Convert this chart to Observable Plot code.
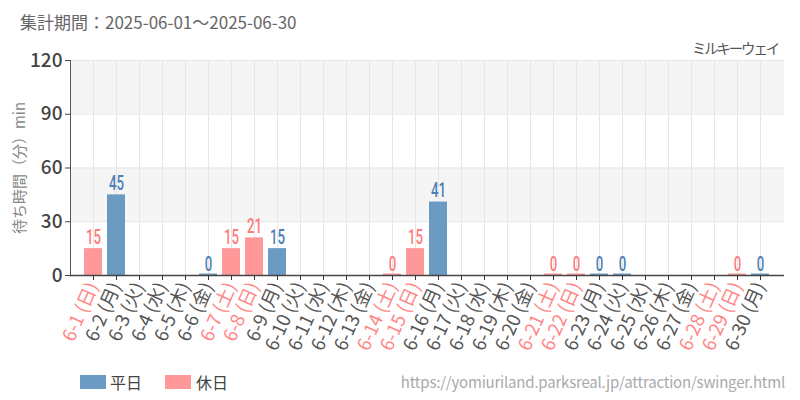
<!DOCTYPE html>
<html><head><meta charset="utf-8">
<script src="https://cdn.jsdelivr.net/npm/d3@7"></script>
<script src="https://cdn.jsdelivr.net/npm/@observablehq/plot@0.6"></script>
<style>
body{margin:0;background:#fff;font-family:"Noto Sans CJK JP","Noto Sans",sans-serif;}
#wrap{position:relative;width:800px;height:400px;overflow:hidden;}
#title{position:absolute;left:20px;top:9px;font-size:17px;color:#666;z-index:2;}
#name{position:absolute;right:22px;top:37px;font-size:14.5px;color:#555;z-index:2;letter-spacing:-2.2px;}
#chart{position:absolute;left:0;top:40px;z-index:1;}
#legend{position:absolute;left:0;top:360px;width:800px;height:40px;font-size:16px;color:#444;z-index:2;}
.sw{position:absolute;top:15px;width:26px;height:14px;}
.lt{position:absolute;top:10px;}
#url{position:absolute;right:15px;top:11px;font-size:15px;color:#aaa;letter-spacing:-0.2px;}
</style></head>
<body><div id="wrap">
<div id="title">集計期間：2025-06-01～2025-06-30</div>
<div id="name">ミルキーウェイ</div>
<div id="chart"></div>
<div id="legend">
<div class="sw" style="left:80px;background:#6b9bc3"></div><div class="lt" style="left:110px">平日</div>
<div class="sw" style="left:165px;background:#ff9999"></div><div class="lt" style="left:196px">休日</div>
<div id="url">https://yomiuriland.parksreal.jp/attraction/swinger.html</div>
</div>
</div>
<script>
const dates = ["6-1","6-2","6-3","6-4","6-5","6-6","6-7","6-8","6-9","6-10","6-11","6-12","6-13","6-14","6-15","6-16","6-17","6-18","6-19","6-20","6-21","6-22","6-23","6-24","6-25","6-26","6-27","6-28","6-29","6-30"];
const weekdays = ["日","月","火","水","木","金","土","日","月","火","水","木","金","土","日","月","火","水","木","金","土","日","月","火","水","木","金","土","日","月"];
const waits = [15,45,null,null,null,0,15,21,15,null,null,null,null,0,15,41,null,null,null,null,0,0,0,0,null,null,null,null,0,0];
const yTicks = [0,30,60,90,120];
const shadeLow = [30,90];
const shadeHigh = [60,120];

const labels = dates.map((d,i)=>`${d} (${weekdays[i]})`);
const rows = dates.map((d,i)=>({label:labels[i], v:waits[i], hol: weekdays[i]==="土"||weekdays[i]==="日"}));
const holSet = new Set(rows.filter(r=>r.hol).map(r=>r.label));
const present = rows.filter(r=>r.v!==null);
const shades = shadeLow.map((lo,i)=>({lo, hi:shadeHigh[i]}));

const barFill = r => r.hol ? "#ff9999" : "#6b9bc3";
const txtFill = r => r.hol ? "#ff7b7b" : "#4a80b3";

const chart = Plot.plot({
  width:800, height:320,
  marginTop:20, marginBottom:85, marginLeft:70, marginRight:16,
  style:{fontFamily:"'Noto Sans CJK JP','Noto Sans',sans-serif", background:"transparent"},
  x:{type:"band", domain:labels, padding:0.2, label:null},
  y:{domain:[0,120], ticks:yTicks, label:null},
  marks:[
    Plot.rectY(shades,{y1:"lo", y2:"hi", fill:"#f5f5f5"}),
    Plot.ruleY([30,60,90,120],{stroke:"#e6e6e6", strokeWidth:1}),
    Plot.ruleX(labels,{x:d=>d, y1:0, y2:120, stroke:"#e6e6e6", strokeWidth:1}),
    Plot.barY(present,{x:"label", y:"v", fill:barFill}),
    Plot.tickY(present.filter(r=>r.v===0),{x:"label", y:"v", stroke:barFill, strokeWidth:2, dy:-1}),
    Plot.text(present,{x:"label", y:"v", text:d=>String(d.v), fill:txtFill, dy:-11, className:"vlab",
      fontSize:20, fontWeight:500, fontFamily:"'Roboto','Noto Sans',sans-serif"}),
    Plot.axisY({ticks:yTicks, tickSize:5, fontSize:19, fontWeight:500, fill:"#444", stroke:"#444", tickPadding:3, label:null}),
    Plot.frame({anchor:"left", stroke:"#555"}),
    Plot.axisX({tickSize:5, tickRotate:-66, fontSize:18.5, tickPadding:3, label:null, stroke:"#333",
      fill:d=>holSet.has(d) ? "#ff8585" : "#555"}),
    Plot.ruleY([0],{stroke:"#444", strokeWidth:1.5}),
    Plot.text(["待ち時間（分）min"],{frameAnchor:"left", textAnchor:"middle", rotate:-90, dx:-50, fontSize:15, fill:"#888"})
  ]
});
document.getElementById("chart").appendChild(chart);
// condense the value labels
d3.select(chart).selectAll("g.vlab text").each(function(){
  const w = this.getComputedTextLength();
  this.setAttribute("textLength", (w*0.66).toFixed(1));
  this.setAttribute("lengthAdjust","spacingAndGlyphs");
});
</script>
</body></html>
